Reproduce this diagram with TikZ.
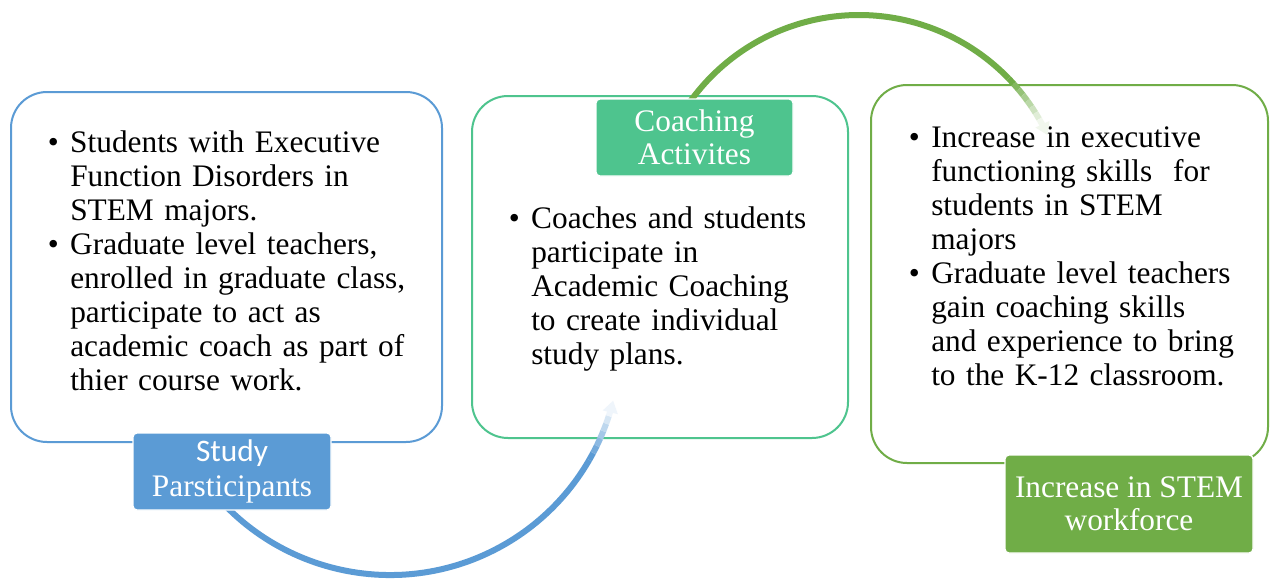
\documentclass[tikz,border=0pt]{standalone}
\usepackage{fontspec}
\setmainfont{Liberation Serif}
\newfontfamily\calibri{Carlito}
\usetikzlibrary{arrows.meta}
\definecolor{studyblue}{HTML}{5B9BD5}
\definecolor{coachteal}{HTML}{4EC48E}
\definecolor{stemgreen}{HTML}{70AD47}
\newcommand\bul{\par\noindent\llap{\textbullet\hspace{8.5pt}}\strut}
\begin{document}
\begin{tikzpicture}[x=0.75pt,y=0.75pt]\tikzset{part/.style = {draw, line width=1.5pt, rounded corners=27pt, inner sep=0pt},
	points/.style = {anchor=north west, inner sep=0pt, align=left, font=\fontsize{23.5}{25.5}\selectfont},
	tag/.style = {rounded corners=3pt, draw=white, line width=1pt, text=white, align=center, inner sep=0pt, font=\fontsize{23.5}{24.5}\selectfont},
	flow/.style = {line width=4.5pt}}

		\fill[white] (0,0) rectangle (1270,-579);
		\useasboundingbox (0,0) rectangle (1270,-579);

		% the three boxes
		\node[part, draw=studyblue, minimum width=323.25pt, minimum height=262.5pt] (who) at (226.5,-267) {};
		\node[part, draw=coachteal, minimum width=282pt, minimum height=256.5pt] (what) at (660,-267) {};
		\node[part, draw=stemgreen, minimum width=297.75pt, minimum height=283.5pt] (outcome) at (1069.5,-274) {};

		\node[points, text width=270pt] (whotext) at (70,-118.5) {\bul Students with Executive\\Function Disorders in\\STEM majors.
			\bul Graduate level teachers,\\enrolled in graduate class,\\participate to act as\\academic coach as part of\\thier course work.};
		\node[points, text width=230pt] (whattext) at (531,-194.5) {\bul Coaches and students\\participate in\\Academic Coaching\\to create individual\\study plans.};
		\node[points, text width=240pt] (outcometext) at (931,-113) {\bul Increase in executive\\functioning skills\ \ for\\students in STEM\\majors
			\bul Graduate level teachers\\gain coaching skills\\and experience to bring\\to the K-12 classroom.};

		% arcs between the steps
		\coordinate (bluec) at (390,-345);
		\coordinate (greenc) at (859,-223);
		\draw[flow, studyblue] ([shift={(210:172.5pt)}]bluec) arc[start angle=210, end angle=330, radius=172.5pt];
		\foreach \i in {0,...,5}{
			\pgfmathsetmacro\shade{100-15*\i}
			\draw[flow, draw=studyblue!\shade] ([shift={(330+2*\i:172.5pt)}]bluec) arc[start angle=330+2*\i, end angle=332+2*\i, radius=172.5pt];
		}
		\draw[flow, draw=studyblue!10, -{Triangle[length=9pt,width=11pt]}] ([shift={(342:172.5pt)}]bluec) arc[start angle=342, end angle=346, radius=172.5pt];

		\draw[flow, stemgreen] ([shift={(150:156pt)}]greenc) arc[start angle=150, end angle=44, radius=156pt];
		\foreach \i in {0,...,6}{
			\pgfmathsetmacro\shade{100-13*\i}
			\draw[flow, draw=stemgreen!\shade] ([shift={(44-2*\i:156pt)}]greenc) arc[start angle=44-2*\i, end angle=42-2*\i, radius=156pt];
		}
		\draw[flow, draw=stemgreen!10, -{Triangle[length=9pt,width=11pt]}] ([shift={(30:156pt)}]greenc) arc[start angle=30, end angle=25, radius=156pt];

		% labels on the boxes
		\node[tag, fill=studyblue, minimum width=148.5pt, minimum height=57.75pt] (whotag) at (232,-471.5) {{\calibri Study}\\[2pt]Parsticipants};
		\node[tag, fill=coachteal, minimum width=147.75pt, minimum height=57.75pt] (whattag) at (694.5,-137.5) {Coaching\\Activites};
		\node[tag, fill=stemgreen, minimum width=186pt, minimum height=73.5pt] (outcometag) at (1129,-504) {Increase in STEM\\workforce};
	\end{tikzpicture}
\end{document}
